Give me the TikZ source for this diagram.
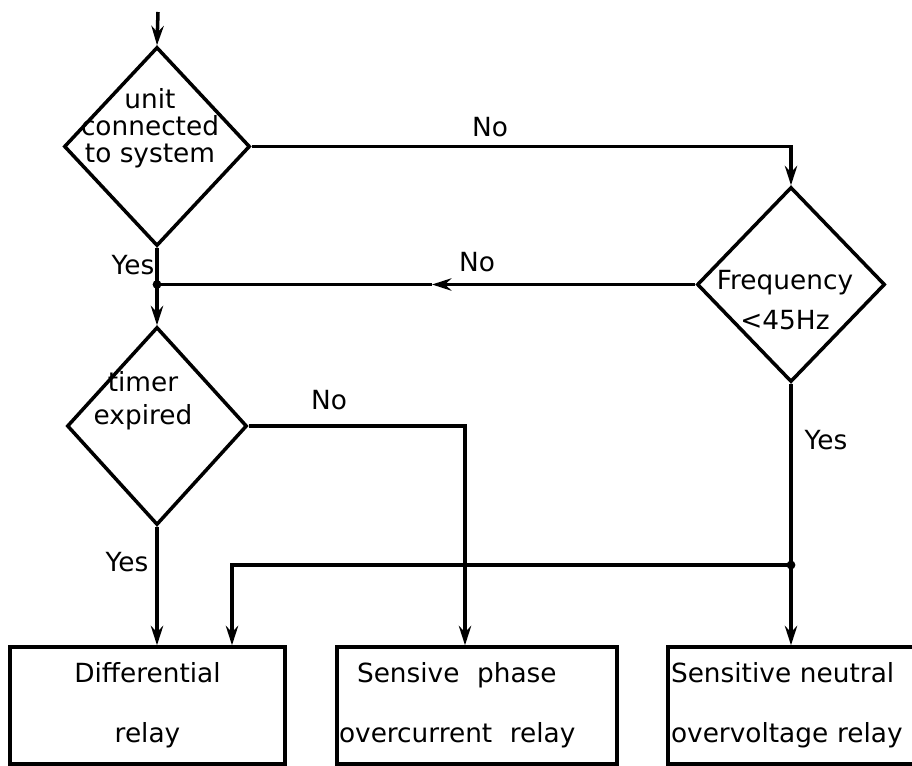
\documentclass[tikz,border=0pt]{standalone}
\usepackage{fontspec}
\setmainfont{DejaVu Sans}
\usepackage{tikz}
\usetikzlibrary{shapes.geometric,arrows.meta}

\begin{document}
\begin{tikzpicture}[x=0.02cm,y=-0.02cm,
    every node/.style={font=\fontsize{15}{18}\selectfont},
    line/.style={line width=2pt},
    arr/.style={line width=2pt,-{Stealth[length=11pt,width=7pt]}},
    decision/.style={draw,diamond,line width=2pt,inner sep=0pt},
    relaybox/.style={draw,rectangle,line width=2pt,minimum height=2.34cm,inner ysep=0pt,font=\fontsize{15}{34}\selectfont}]
    \useasboundingbox (0,0) rectangle (912,766);

    % decisions
    \node [decision,minimum width=3.72cm,minimum height=3.98cm] (unit) at (157,146.5) {};
    \node [align=center,font=\fontsize{15}{15.4}\selectfont] (unittext) at (150,128) {unit\\connected\\to system};
    \node [decision,minimum width=3.76cm,minimum height=3.9cm] (freq) at (791,284.5) {};
    \node [align=center,font=\fontsize{15}{22.8}\selectfont] (freqtext) at (785,300) {Frequency\\\textless45Hz};
    \node [decision,minimum width=3.6cm,minimum height=3.96cm] (timer) at (157,426) {};
    \node [align=center,font=\fontsize{15}{18.8}\selectfont] (timertext) at (143,401) {timer\\expired};

    % relays
    \node [relaybox,minimum width=5.5cm,align=center] (diff) at (147.5,705.5) {Differential\\relay};
    \node [relaybox,align=left,text width=5.52cm,inner xsep=0.04cm] (phase) at (477,705.5) {\hspace*{0.36cm}Sensive\ \ phase\\overcurrent\ \ relay};
    \node [relaybox,align=left,text width=4.8cm,inner xsep=0.06cm] (neutral) at (791,705.5) {Sensitive neutral\\overvoltage relay};

    \coordinate (start) at (158,12);
    \coordinate (join) at (unit.south |- freq.west);
    \coordinate (mid) at (432,284.5);
    \coordinate (split) at (791,565);
    \coordinate (turn) at (232,565);

    \draw [arr] (start) -- (unit.north);
    \draw [arr] (unit.east) -| (freq.north);
    \draw [arr] (freq.west) -- (mid);
    \draw [line] (mid) -- (join);
    \draw [line] (unit.south) -- (join);
    \draw [arr] (join) -- (timer.north);
    \draw [arr] (timer.east) -| ([xshift=-0.24cm]phase.north);
    \draw [arr] (timer.south) -- (timer.south |- diff.north);
    \draw [arr] (freq.south) -- (freq.south |- neutral.north);
    \draw [arr] (split) -- (turn) -- (turn |- diff.north);
    \fill (join) circle (2.5pt);
    \fill (split) circle (2.5pt);

    % labels
    \node (no1) at (490,127) {No};
    \node (no2) at (477,262) {No};
    \node (no3) at (329,400) {No};
    \node (yes1) at (133,265) {Yes};
    \node (yes2) at (127,562) {Yes};
    \node (yes3) at (826,440) {Yes};
\end{tikzpicture}
\end{document}
